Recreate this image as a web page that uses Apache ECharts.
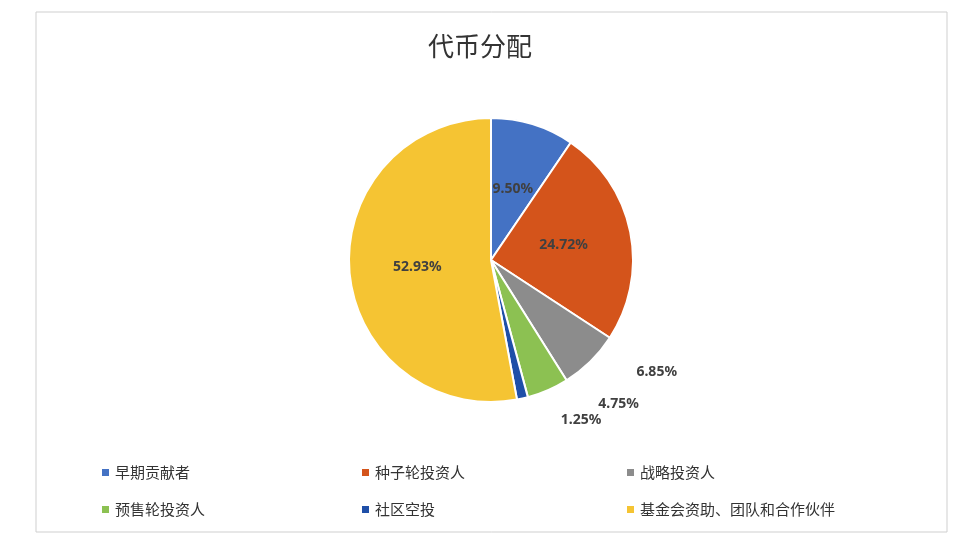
<!DOCTYPE html>
<html><head><meta charset="utf-8">
<script src="https://cdn.jsdelivr.net/npm/echarts@6/dist/echarts.min.js"></script>
<style>html,body{margin:0;background:#fff}#c{width:960px;height:547px}</style>
</head><body><div id="c"></div>
<script>
const categories = ['早期贡献者','种子轮投资人','战略投资人','预售轮投资人','社区空投','基金会资助、团队和合作伙伴'];
const values = [9.50, 24.72, 6.85, 4.75, 1.25, 52.93];
const colors = ['#4472C4','#D4541B','#8C8C8C','#8CC152','#1F4FA8','#F5C433'];
const labelPos = ['inside','inside','outside','outside','outside','inside'];
const legendPos = [[95,460],[355,460],[620,460],[95,497],[355,497],[620,497]];
const chart = echarts.init(document.getElementById('c'));
chart.setOption({
  graphic:[{type:'rect',shape:{x:36,y:12,width:911,height:520},style:{fill:'none',stroke:'#cfcfcf',lineWidth:1}}],
  title:{text:'代币分配',left:'center',top:28,textStyle:{fontFamily:'Noto Sans CJK SC',fontSize:26,fontWeight:'normal',color:'#333'}},
  legend: categories.map((c,i)=>({data:[c],left:legendPos[i][0],top:legendPos[i][1],itemWidth:9,itemHeight:9,icon:'rect',
    textStyle:{fontFamily:'Noto Sans CJK SC',fontSize:15,color:'#333'}})),
  series:[{type:'pie',center:[491,260],radius:142,startAngle:90,clockwise:true,
    itemStyle:{borderColor:'#fff',borderWidth:2},
    labelLine:{show:false},
    data:categories.map((c,i)=>({name:c,value:values[i],itemStyle:{color:colors[i]},
      label:{show:true,position:labelPos[i],distance:labelPos[i]==='outside'?6:undefined,
        formatter:values[i].toFixed(2)+'%',fontSize:14,fontWeight:'bold',color:'#404040',fontFamily:'Noto Sans'}}))
  }]
});
</script></body></html>
